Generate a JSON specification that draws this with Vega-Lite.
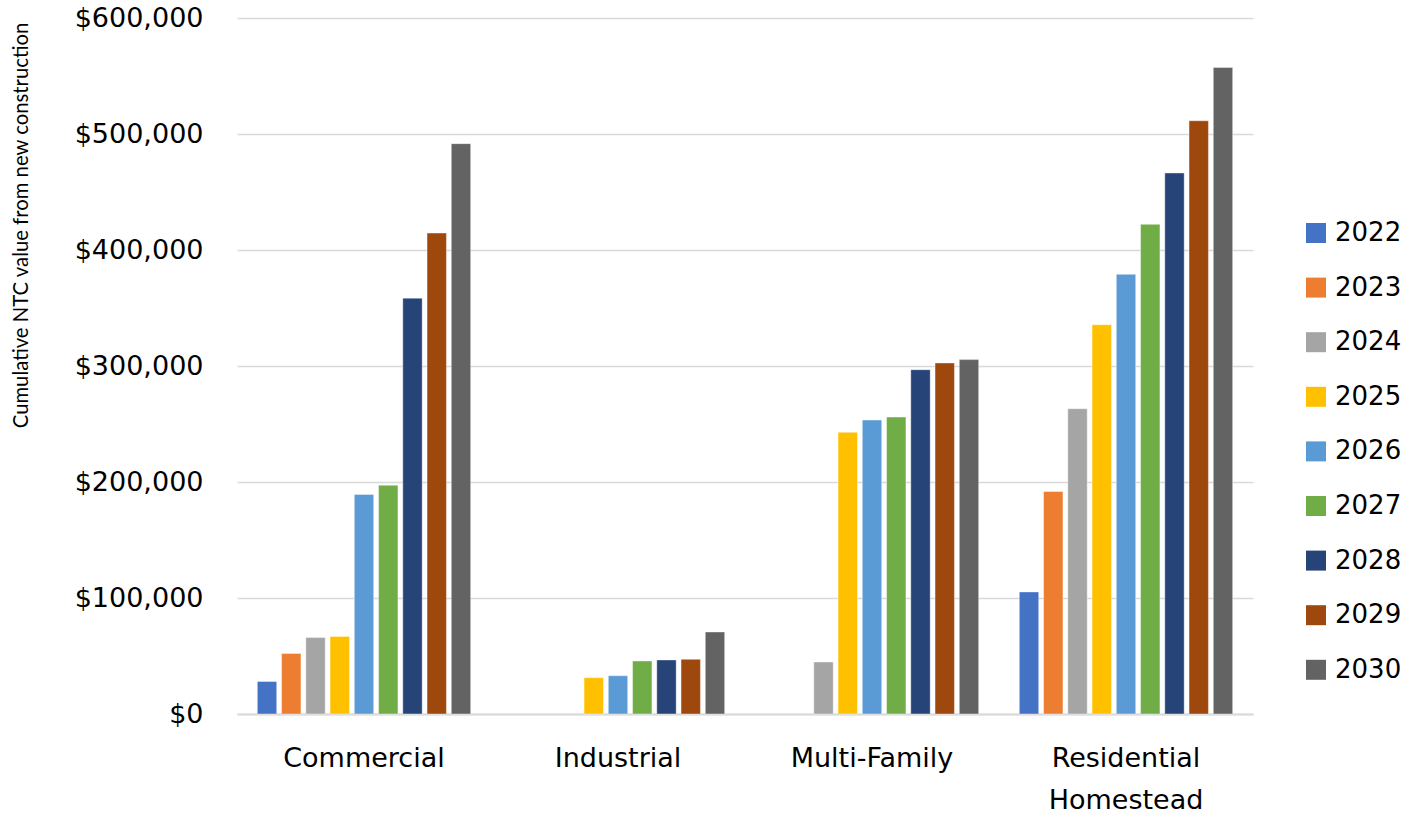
{
  "$schema": "https://vega.github.io/schema/vega-lite/v6.json",
  "autosize": {"type": "none"},
  "padding": {"left": 237, "top": 18, "right": 152, "bottom": 103},
  "width": 1016,
  "height": 696,
  "background": "white",
  "data": {
    "values": [
      {"category": "Commercial", "year": "2022", "value": 28000},
      {"category": "Commercial", "year": "2023", "value": 52200},
      {"category": "Commercial", "year": "2024", "value": 65900},
      {"category": "Commercial", "year": "2025", "value": 66900},
      {"category": "Commercial", "year": "2026", "value": 189200},
      {"category": "Commercial", "year": "2027", "value": 197200},
      {"category": "Commercial", "year": "2028", "value": 358500},
      {"category": "Commercial", "year": "2029", "value": 414600},
      {"category": "Commercial", "year": "2030", "value": 491700},
      {"category": "Industrial", "year": "2025", "value": 31300},
      {"category": "Industrial", "year": "2026", "value": 33000},
      {"category": "Industrial", "year": "2027", "value": 45700},
      {"category": "Industrial", "year": "2028", "value": 46600},
      {"category": "Industrial", "year": "2029", "value": 47100},
      {"category": "Industrial", "year": "2030", "value": 70700},
      {"category": "Multi-Family", "year": "2024", "value": 44800},
      {"category": "Multi-Family", "year": "2025", "value": 242800},
      {"category": "Multi-Family", "year": "2026", "value": 253400},
      {"category": "Multi-Family", "year": "2027", "value": 256000},
      {"category": "Multi-Family", "year": "2028", "value": 296800},
      {"category": "Multi-Family", "year": "2029", "value": 302600},
      {"category": "Multi-Family", "year": "2030", "value": 305500},
      {"category": "Residential Homestead", "year": "2022", "value": 105200},
      {"category": "Residential Homestead", "year": "2023", "value": 191800},
      {"category": "Residential Homestead", "year": "2024", "value": 263200},
      {"category": "Residential Homestead", "year": "2025", "value": 335600},
      {"category": "Residential Homestead", "year": "2026", "value": 379000},
      {"category": "Residential Homestead", "year": "2027", "value": 422100},
      {"category": "Residential Homestead", "year": "2028", "value": 466400},
      {"category": "Residential Homestead", "year": "2029", "value": 511400},
      {"category": "Residential Homestead", "year": "2030", "value": 557300}
    ]
  },
  "mark": {"type": "bar", "stroke": "#ffffff", "strokeOpacity": 0.4, "strokeWidth": 1},
  "encoding": {
    "x": {
      "field": "category",
      "type": "nominal",
      "sort": ["Commercial", "Industrial", "Multi-Family", "Residential Homestead"],
      "scale": {"paddingInner": 0.16, "paddingOuter": 0.08},
      "axis": {
        "title": null,
        "labelAngle": 0,
        "labelExpr": "split(datum.value, ' ')",
        "labelFont": "DejaVu Sans",
        "labelFontSize": 27,
        "labelColor": "#000000",
        "labelPadding": 31,
        "labelLineHeight": 42,
        "labelBaseline": "top",
        "ticks": false,
        "domainColor": "#D9D9D9",
        "domainWidth": 2,
        "grid": false
      }
    },
    "xOffset": {
      "field": "year",
      "type": "nominal",
      "scale": {"paddingInner": 0.2, "paddingOuter": 0}
    },
    "y": {
      "field": "value",
      "type": "quantitative",
      "scale": {"domain": [0, 600000], "nice": false},
      "axis": {
        "values": [0, 100000, 200000, 300000, 400000, 500000, 600000],
        "format": "$,.0f",
        "labelFont": "DejaVu Sans",
        "labelFontSize": 27,
        "labelColor": "#000000",
        "labelPadding": 34,
        "ticks": false,
        "domain": false,
        "gridColor": "#D9D9D9",
        "gridWidth": 1.5,
        "title": "Cumulative NTC value from new construction",
        "titleFont": "Lato",
        "titleFontSize": 20.3,
        "titleFontWeight": "normal",
        "titleColor": "#000000",
        "titleX": -216,
        "titleY": 207,
        "titleAngle": -90,
        "titleAlign": "center",
        "titleBaseline": "middle"
      }
    },
    "color": {
      "field": "year",
      "type": "nominal",
      "scale": {
        "domain": ["2022", "2023", "2024", "2025", "2026", "2027", "2028", "2029", "2030"],
        "range": ["#4472C4", "#ED7D31", "#A5A5A5", "#FFC000", "#5B9BD5", "#70AD47", "#264478", "#9E480E", "#636363"]
      },
      "legend": {
        "title": null,
        "orient": "none",
        "legendX": 1066,
        "legendY": 202,
        "padding": 0,
        "symbolType": "square",
        "symbolSize": 400,
        "symbolStrokeWidth": 0,
        "labelFont": "DejaVu Sans",
        "labelFontSize": 26,
        "labelColor": "#000000",
        "labelOffset": 6,
        "rowPadding": 28.6
      }
    }
  },
  "config": {
    "view": {"stroke": null}
  }
}
